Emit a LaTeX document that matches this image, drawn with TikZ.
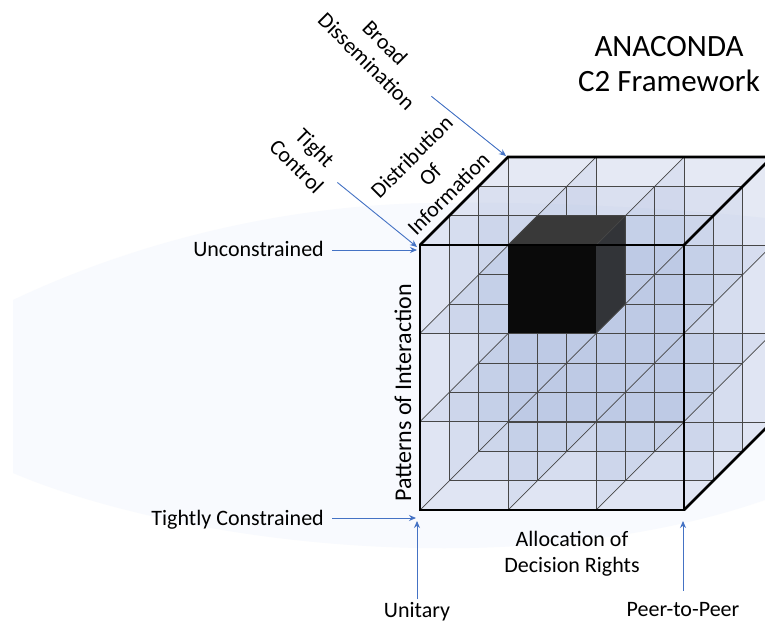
\documentclass[tikz,border=0pt]{standalone}
\usepackage{fontspec}
\setmainfont{Carlito}
\usetikzlibrary{arrows.meta}

\definecolor{arrowblue}{RGB}{68,114,196}
\definecolor{cellfill}{RGB}{150,168,214}
\definecolor{bannerfill}{RGB}{248,250,254}
\definecolor{celltop}{RGB}{57,57,57}
\definecolor{cellside}{RGB}{50,52,56}

\begin{document}
\begin{tikzpicture}[x=1pt,y=1pt,
  lbl/.style={font=\fontsize{22}{26}\selectfont, inner sep=3pt, align=center},
  titletext/.style={font=\fontsize{31}{35}\selectfont, inner sep=0pt, align=center},
  pointer/.style={draw=arrowblue, line width=0.9pt, -{Stealth[length=7pt,width=6pt]}},
  plane/.style={fill=cellfill, fill opacity=0.13},
  gridline/.style={draw=black!72, line width=0.7pt},
  rim/.style={draw=black, line width=2.6pt, line join=miter},
]
\useasboundingbox (0,0) rectangle (765,-622);
\clip (0,0) rectangle (765,-622);
\fill[white] (0,0) rectangle (765,-622);

% pale banner behind the cube
\fill[bannerfill] (13,-300) .. controls (150,-235) and (300,-205) .. (430,-203)
  .. controls (560,-201) and (690,-210) .. (765,-218) -- (765,-500)
  .. controls (650,-540) and (520,-550) .. (420,-548)
  .. controls (250,-545) and (100,-510) .. (13,-473) -- cycle;

% 3 x 3 x 3 lattice in oblique projection
\begin{scope}[shift={(420pt,-245pt)}, x={(88pt,0pt)}, y={(0pt,-88.33pt)}, z={(29.33pt,29.33pt)}]
  % translucent lattice planes
  \foreach \t in {0,1,2,3} {
    \fill[plane] (\t,0,0) -- (\t,3,0) -- (\t,3,3) -- (\t,0,3) -- cycle;
    \fill[plane] (0,\t,0) -- (3,\t,0) -- (3,\t,3) -- (0,\t,3) -- cycle;
    \fill[plane] (0,0,\t) -- (3,0,\t) -- (3,3,\t) -- (0,3,\t) -- cycle;
  }
  % lattice lines
  \foreach \a in {0,1,2,3} \foreach \b in {0,1,2,3} {
    \draw[gridline] (0,\a,\b) -- (3,\a,\b);
    \draw[gridline] (\a,0,\b) -- (\a,3,\b);
    \draw[gridline] (\a,\b,0) -- (\a,\b,3);
  }
  % the solid cell
  \fill[black!96] (1,0,0) -- (2,0,0) -- (2,1,0) -- (1,1,0) -- cycle;
  \fill[celltop] (1,0,0) -- (2,0,0) -- (2,0,1) -- (1,0,1) -- cycle;
  \fill[cellside] (2,0,0) -- (2,1,0) -- (2,1,1) -- (2,0,1) -- cycle;
  \draw[gridline] (1,0,0) -- (1,0,1) -- (2,0,1) -- (2,1,1) -- (2,1,0);
  \draw[gridline] (2,0,1) -- (2,0,0);
  % outer edges
  \draw[rim] (0,0,0) -- (3,0,0) -- (3,3,0) -- (0,3,0) -- cycle;
  \draw[rim] (0,0,0) -- (0,0,3) -- (3,0,3) -- (3,0,0);
  \draw[rim] (3,0,3) -- (3,3,3) -- (3,3,0);
\end{scope}

% arrow tips at the cube corners
\coordinate (tipUnc) at (417,-250);
\coordinate (tipTC) at (416,-518);
\coordinate (tipU) at (417,-521);
\coordinate (tipP) at (683,-521);
\coordinate (tipTight) at (417,-247);
\coordinate (tipBroad) at (506,-156);

% labels
\node[titletext] (title) at (669,-64.5) {ANACONDA\\C2 Framework};
\node[lbl, anchor=east] (unc) at (327,-249) {Unconstrained};
\node[lbl, anchor=east] (tc) at (327,-520) {Tightly Constrained};
\node[lbl] (unitary) at (417,-612) {Unitary};
\node[lbl] (peer) at (683,-610) {Peer-to-Peer};
\node[lbl] (alloc) at (572,-554) {Allocation of\\Decision Rights};
\node[lbl, rotate=90, font=\fontsize{24}{28}\selectfont] (patterns) at (403,-393) {Patterns of Interaction};
\node[lbl, rotate=-45] (broad) at (376,-52) {Broad\\Dissemination};
\node[lbl, rotate=-45] (tight) at (306,-157) {Tight\\Control};
\node[lbl, rotate=45] (distrib) at (430,-175) {Distribution\\Of\\Information};

% pointers
\draw[pointer, shorten <=5pt] (unc.east |- tipUnc) -- (tipUnc);
\draw[pointer, shorten <=5pt] (tc.east |- tipTC) -- (tipTC);
\draw[pointer] (unitary) -- (tipU);
\draw[pointer, shorten <=9pt] (peer) -- (tipP);
\draw[pointer, shorten <=4pt] (tight) -- (tipTight);
\draw[pointer, shorten <=4pt] (broad) -- (tipBroad);
\end{tikzpicture}
\end{document}
